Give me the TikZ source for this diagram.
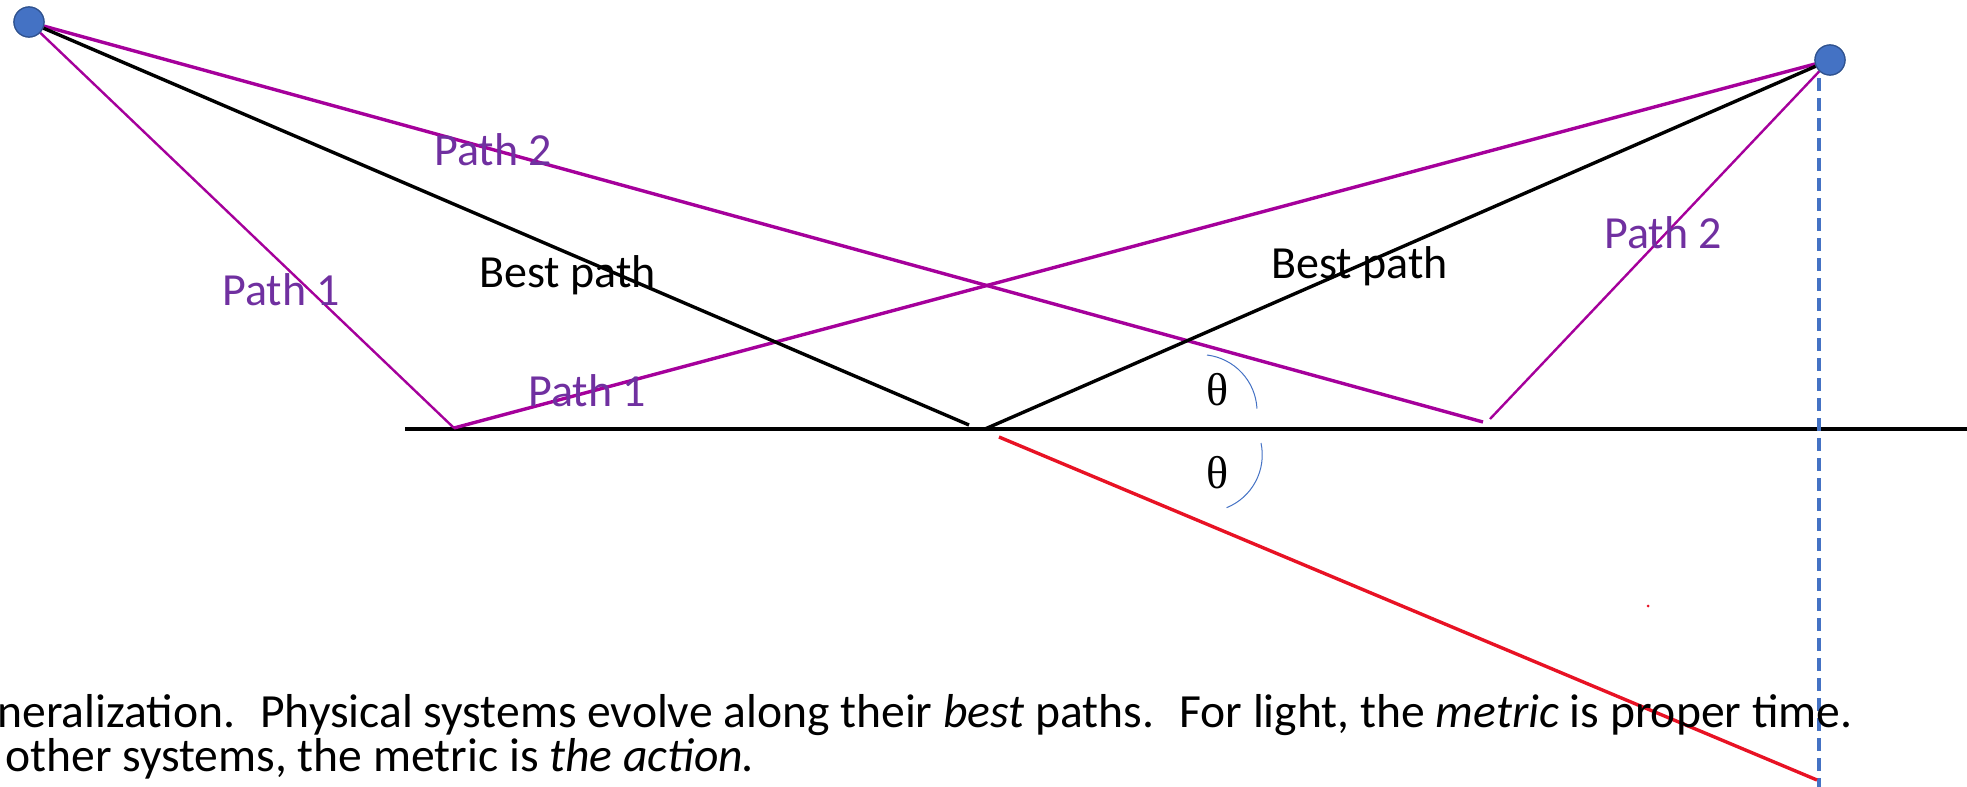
\documentclass[tikz,border=0pt]{standalone}
\usepackage{fontspec}
\setmainfont{Carlito}
\newfontfamily\greekfont{Liberation Serif}
\usepackage{xcolor}
\definecolor{raypurple}{RGB}{165,0,155}
\definecolor{textpurple}{RGB}{112,48,160}
\definecolor{dotblue}{RGB}{68,114,196}
\definecolor{dotedge}{RGB}{47,82,143}
\definecolor{rayred}{RGB}{232,18,36}

\begin{document}
\begin{tikzpicture}[x=0.5pt,y=-0.5pt,
  dot/.style={circle,draw=dotedge,fill=dotblue,line width=0.6pt,minimum size=15pt,inner sep=0pt},
  lbl/.style={anchor=base west,inner sep=0pt,font=\fontsize{23}{27}\selectfont},
  pathlbl/.style={lbl,text=textpurple},
  anglelbl/.style={anchor=base west,inner sep=0pt,font=\greekfont\fontsize{23}{27}\selectfont},
  bodytext/.style={anchor=base west,inner sep=0pt,font=\fontsize{23.8}{26}\selectfont},
  bestray/.style={line width=1.7pt,black},
  pathray/.style={line width=1.7pt,raypurple},
  thinray/.style={line width=1.2pt,raypurple},
  imageray/.style={line width=1.7pt,rayred},
  anglearc/.style={line width=0.5pt,dotblue},
  normal/.style={line width=1.8pt,dotblue,dash pattern=on 6.5pt off 3.5pt}]
\useasboundingbox (0,0) rectangle (1967,787);
\coordinate (mirL) at (405,429);
\coordinate (mirR) at (1967,429);
\coordinate (r1) at (454,428);
\coordinate (rb1) at (969,425);
\coordinate (rb2) at (985,429);
\coordinate (r2a) at (1483,422);
\coordinate (r2b) at (1490,419);
\coordinate (imgA) at (999,437);
\coordinate (imgB) at (1817,780);
\coordinate (nTop) at (1819,78);
\coordinate (nBot) at (1819,787);
\node[dot] (src) at (29,22) {};
\node[dot] (dst) at (1830,60) {};
\draw[bestray] (mirL) -- (mirR);
\draw[normal] (nTop) -- (nBot);
\draw[thinray] (src) -- (r1);
\draw[pathray] (r1) -- (dst);
\draw[pathray] (src) -- (r2a);
\draw[thinray] (r2b) -- (dst);
\draw[bestray] (src) -- (rb1);
\draw[bestray] (rb2) -- (dst);
\draw[imageray] (imgA) -- (imgB);
\fill[rayred] (1648,606) circle[radius=1.5];
\node[dot] at (src) {};
\node[dot] at (dst) {};
\node[pathlbl] (p2a) at (434,165) {Path 2};
\node[pathlbl] (p1a) at (222,305) {Path 1};
\node[lbl] (besta) at (479,287) {Best path};
\node[pathlbl] (p1b) at (528,406) {Path 1};
\node[lbl] (bestb) at (1271,278) {Best path};
\node[pathlbl] (p2b) at (1604,248) {Path 2};
\node[anglelbl] (th1) at (1206,405) {θ};
\node[anglelbl] (th2) at (1206,488) {θ};
\draw[anglearc] (1207,355) arc[start angle=-83,end angle=-3,radius=57];
\draw[anglearc] (1261,443) arc[start angle=-12,end angle=68,radius=57];
\node[bodytext] (txt1) at (-3,727) {neralization.~ Physical systems evolve along their \textit{best} paths.~ For light, the \textit{metric} is proper time.};
\node[bodytext] (txt2) at (5,771) {other systems, the metric is \textit{the action.}};
\end{tikzpicture}
\end{document}
